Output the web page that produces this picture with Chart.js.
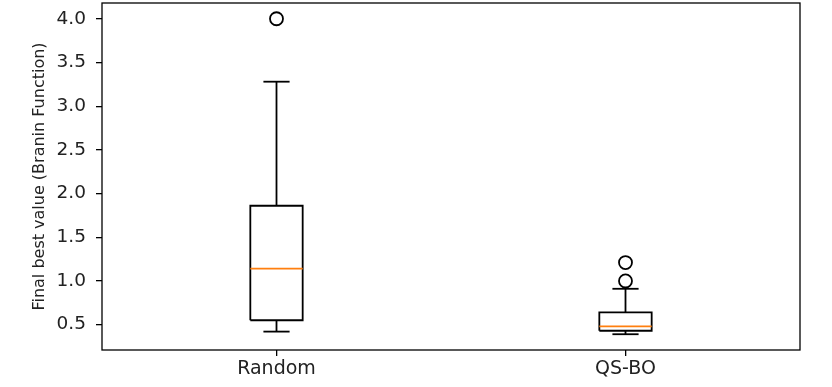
<!DOCTYPE html>
<html>
<head>
<meta charset="utf-8">
<script src="https://cdn.jsdelivr.net/npm/chart.js@4.4.0/dist/chart.umd.min.js"></script>
<style>
  html, body { margin: 0; padding: 0; background: #ffffff; }
  #wrap { width: 832px; height: 387px; }
</style>
</head>
<body>
<div id="wrap"><canvas id="c" width="832" height="387"></canvas></div>
<script>
// ---- data ----
const categories = ['Random', 'QS-BO'];
const whiskerLow  = [0.42, 0.39];
const q1          = [0.55, 0.43];
const median      = [1.14, 0.48];
const q3          = [1.86, 0.64];
const whiskerHigh = [3.28, 0.91];
const outliers    = [[4.0], [1.0, 1.21]];
const yTicks = [0.5, 1.0, 1.5, 2.0, 2.5, 3.0, 3.5, 4.0];
const yLabel = 'Final best value (Branin Function)';

// ---- build datasets ----
const BOX_HALF = 0.075, CAP_HALF = 0.0375, LW = 1.8;
const datasets = [];
const seg = (pts, color, width) => ({
  data: pts, showLine: true, borderColor: color, borderWidth: width,
  pointRadius: 0, pointHoverRadius: 0, fill: false, tension: 0
});
categories.forEach((cat, i) => {
  const x = i + 1;
  datasets.push(Object.assign(seg([{x: x - BOX_HALF, y: median[i]}, {x: x + BOX_HALF, y: median[i]}], '#ff7f0e', LW), {order: 0}));
  datasets.push(Object.assign(seg([
    {x: x - BOX_HALF, y: q1[i]}, {x: x + BOX_HALF, y: q1[i]},
    {x: x + BOX_HALF, y: q3[i]}, {x: x - BOX_HALF, y: q3[i]},
    {x: x - BOX_HALF, y: q1[i]}], '#000000', LW), {order: 1}));
  datasets.push(Object.assign(seg([{x: x, y: q1[i]}, {x: x, y: whiskerLow[i]}], '#000000', LW), {order: 1}));
  datasets.push(Object.assign(seg([{x: x, y: q3[i]}, {x: x, y: whiskerHigh[i]}], '#000000', LW), {order: 1}));
  datasets.push(Object.assign(seg([{x: x - CAP_HALF, y: whiskerLow[i]}, {x: x + CAP_HALF, y: whiskerLow[i]}], '#000000', LW), {order: 1}));
  datasets.push(Object.assign(seg([{x: x - CAP_HALF, y: whiskerHigh[i]}, {x: x + CAP_HALF, y: whiskerHigh[i]}], '#000000', LW), {order: 1}));
  datasets.push({
    data: outliers[i].map(v => ({x: x, y: v})), showLine: false,
    pointRadius: 6.5, pointHoverRadius: 6.5, pointBorderWidth: LW,
    pointBorderColor: '#000000', pointBackgroundColor: 'rgba(0,0,0,0)', order: 1
  });
});

const allVals = [].concat(whiskerLow, whiskerHigh, ...outliers);
const lo = Math.min(...allVals), hi = Math.max(...allVals);
const pad = 0.05 * (hi - lo);

const framePlugin = {
  id: 'frame',
  afterDraw(chart) {
    const a = chart.chartArea, ctx = chart.ctx;
    ctx.save();
    ctx.strokeStyle = '#000000';
    ctx.lineWidth = 1.3;
    ctx.strokeRect(a.left, a.top, a.right - a.left, a.bottom - a.top);
    ctx.restore();
  }
};
const zeroPad = s => { s.paddingTop = 0; s.paddingBottom = 0; s.paddingLeft = 0; s.paddingRight = 0; };

new Chart(document.getElementById('c'), {
  type: 'scatter',
  data: { datasets },
  options: {
    responsive: false,
    animation: false,
    layout: { autoPadding: false, padding: { left: 26, top: 3, right: 32, bottom: 0 } },
    plugins: { legend: { display: false }, tooltip: { enabled: false } },
    scales: {
      x: {
        type: 'linear', min: 0.5, max: 2.5,
        afterBuildTicks: s => { s.ticks = categories.map((c, i) => ({value: i + 1})); },
        afterFit: s => { s.height = 37; zeroPad(s); },
        ticks: {
          autoSkip: false, maxRotation: 0, color: '#222222', padding: 2,
          font: { family: 'DejaVu Sans', size: 19 },
          callback: v => categories[Math.round(v) - 1]
        },
        grid: { display: true, drawOnChartArea: false, drawTicks: true, tickLength: 6, color: '#000000', lineWidth: 1.3 },
        border: { display: false }
      },
      y: {
        type: 'linear', min: lo - pad, max: hi + pad,
        afterBuildTicks: s => { s.ticks = yTicks.map(v => ({value: v})); },
        afterFit: s => { s.width = 102 - 26; zeroPad(s); },
        ticks: {
          color: '#222222', padding: 10,
          font: { family: 'DejaVu Sans', size: 18.5 },
          callback: v => Number(v).toFixed(1)
        },
        grid: { display: true, drawOnChartArea: false, drawTicks: true, tickLength: 6, color: '#000000', lineWidth: 1.3 },
        border: { display: false },
        title: { display: true, text: yLabel, color: '#222222', font: { family: 'DejaVu Sans', size: 16 }, padding: { top: 4, bottom: 4 } }
      }
    }
  },
  plugins: [framePlugin]
});
</script>
</body>
</html>
